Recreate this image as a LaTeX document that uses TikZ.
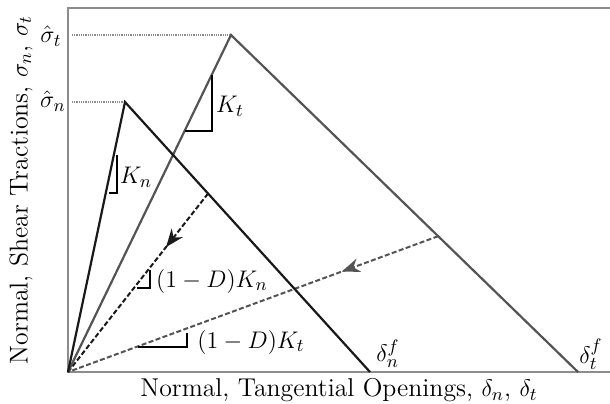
\documentclass[tikz,border=0pt]{standalone}
\usetikzlibrary{arrows.meta,decorations.markings,calc}
\definecolor{axisgray}{gray}{0.55}
\definecolor{tgray}{gray}{0.33}
\definecolor{ngray}{gray}{0.1}
\definecolor{dotgray}{gray}{0.55}
\tikzset{
  lbl/.style={inner sep=0pt,font=\fontsize{12.9}{15}\selectfont},
  axisline/.style={draw=axisgray,line width=0.6pt},
  ncurve/.style={draw=ngray,line width=1.1pt,line join=miter},
  tcurve/.style={draw=tgray,line width=1.1pt,line join=miter},
  guide/.style={draw=dotgray,line width=1.2pt,dash pattern=on 0.5pt off 0.4pt},
  slope/.style={draw=black,line width=0.8pt},
  ndash/.style={draw=ngray,line width=1pt,dash pattern=on 2.5pt off 1.2pt,
    postaction={decorate},decoration={markings,mark=at position 0.3 with {\arrow[ngray]{Stealth[length=9pt,width=7pt]}}}},
  tdash/.style={draw=tgray,line width=1pt,dash pattern=on 2.5pt off 1.2pt,
    postaction={decorate},decoration={markings,mark=at position 0.26 with {\arrow[tgray]{Stealth[length=9pt,width=7pt]}}}},
}
\begin{document}
\begin{tikzpicture}[x=0.5pt,y=-0.5pt]
\useasboundingbox (0,0) rectangle (610,403);
% axes
\coordinate (TL) at (68,8);
\coordinate (O) at (68,372);
\coordinate (TR) at (610,8);
\coordinate (BR) at (610,372);
\draw[axisline] (TR) -- (TL) -- (O) -- (BR);
% key points
\coordinate (Pn) at (125,102);
\coordinate (En) at (370,372);
\coordinate (Pt) at (231,35);
\coordinate (Et) at (578,372);
\coordinate (Un) at ($(Pn)!0.339!(En)$);
\coordinate (Ut) at ($(Pt)!0.597!(Et)$);
% guides
\coordinate (Gn) at (72,102);
\coordinate (Gt) at (72,35);
\draw[guide] (Gt) -- (Pt);
\draw[guide] (Gn) -- (Pn);
% unloading
\draw[tdash] (Ut) -- (O);
\draw[ndash] (Un) -- (O);
% curves
\draw[tcurve] (O) -- (Pt) -- (Et);
\draw[ncurve] (O) -- (Pn) -- (En);
% slope triangles
\draw[slope] (117,155) -- (117,193) -- (109,193);
\draw[slope] (212,75) -- (212,131) -- (185,131);
\draw[slope] (150,270) -- (150,288) -- (137,288);
\draw[slope] (187,333) -- (187,347) -- (138,347);
% labels
\node[lbl] (Lst) at (51,36) {$\hat\sigma_t$};
\node[lbl] (Lsn) at (53,101) {$\hat\sigma_n$};
\node[lbl] (LKn) at (136,177) {$K_n$};
\node[lbl] (LKt) at (230,106) {$K_t$};
\node[lbl] (LDKn) at (212,281) {$(1-D)K_n$};
\node[lbl] (LDKt) at (251,342) {$(1-D)K_t$};
\node[lbl] (Ldn) at (388,354) {$\delta_n^f$};
\node[lbl] (Ldt) at (591,354) {$\delta_t^f$};
\node[lbl] (Lx) at (339,390) {Normal, Tangential Openings, $\delta_n$, $\delta_t$};
\node[lbl,rotate=90] (Ly) at (21,190) {Normal, Shear Tractions, $\sigma_n$, $\sigma_t$};
\end{tikzpicture}
\end{document}
